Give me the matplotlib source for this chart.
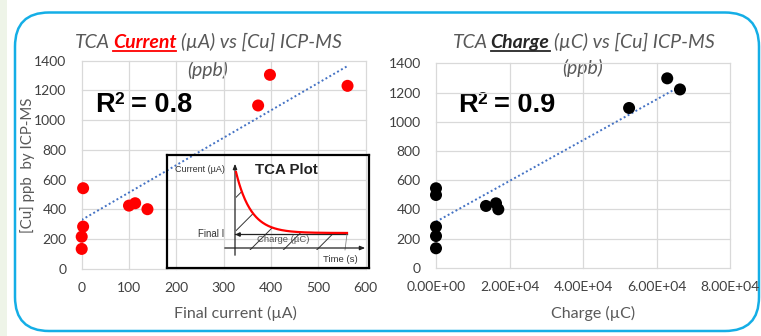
import matplotlib
matplotlib.use('Agg')
import matplotlib.pyplot as plt
import numpy as np
from matplotlib.patches import FancyBboxPatch, Rectangle
from matplotlib.ticker import FixedLocator, FixedFormatter

W, H = 761, 336

# ---------------- data ----------------
cur_x = [0, 0, 3, 3, 100, 113, 139, 373, 398, 562]
cur_y = [135, 217, 285, 543, 426, 442, 402, 1099, 1305, 1231]
cur_trend_x = [0, 564]
cur_trend_y = [330, 1368]

chg_x = [0, 0, 0, 0, 0, 13600, 16330, 16960, 52540, 62920, 66390]
chg_y = [133, 217, 281, 498, 544, 423, 441, 400, 1094, 1297, 1221]
chg_trend_x = [0, 66860]
chg_trend_y = [315, 1248]

cur_xticks = [0, 100, 200, 300, 400, 500, 600]
chg_xticks = [0, 20000, 40000, 60000, 80000]
chg_xticklabels = ['0.00E+00', '2.00E+04', '4.00E+04', '6.00E+04', '8.00E+04']
yticks = [0, 200, 400, 600, 800, 1000, 1200, 1400]

r2_cur = '0.8'
r2_chg = '0.9'

FONT = 'Lato'
GRAY = '#595959'
TICK = '#404040'
GRID = '#d9d9d9'
TREND = '#4472c4'

plt.rcParams['hatch.linewidth'] = 0.7

fig = plt.figure(figsize=(W / 100, H / 100), dpi=100)

# background / frame layer in pixel coordinates
bg = fig.add_axes([0, 0, 1, 1], zorder=0)
bg.set_xlim(0, W)
bg.set_ylim(H, 0)
bg.axis('off')
bg.add_patch(Rectangle((0, 0), 7, H, facecolor='#eef4e8', edgecolor='none'))
bg.add_patch(FancyBboxPatch((15, 12.5), 744, 318.5,
                            boxstyle='round,pad=0,rounding_size=34',
                            facecolor='none', edgecolor='#14aee6', lw=1.8))


def style_axes(ax):
    for s in ax.spines.values():
        s.set_visible(False)
    ax.grid(True, color=GRID, lw=0.9)
    ax.set_axisbelow(True)
    ax.tick_params(length=0, colors=TICK, labelsize=10)
    ax.tick_params(axis='x', pad=9.5)
    ax.tick_params(axis='y', pad=11)
    for lab in ax.get_xticklabels() + ax.get_yticklabels():
        lab.set_fontfamily(FONT)
    for gl in ax.get_xgridlines() + ax.get_ygridlines():
        gl.set_clip_on(False)


# ---------------- left chart ----------------
axL = fig.add_axes([81.7 / W, 1 - 269 / H, (365.5 - 81.7) / W, (269 - 60.7) / H], zorder=2)
axL.patch.set_alpha(0)
axL.set_xlim(0, 600)
axL.set_ylim(0, 1400)
axL.set_xticks(cur_xticks)
axL.set_yticks(yticks)
style_axes(axL)
axL.plot(cur_trend_x, cur_trend_y, color=TREND, lw=1.4, ls=(0, (1, 1.3)), zorder=3)
axL.scatter(cur_x, cur_y, s=75, color='#ff0000', edgecolor='none', zorder=4, clip_on=False)

# ---------------- right chart ----------------
axR = fig.add_axes([436 / W, 1 - 267.7 / H, (730 - 436) / W, (267.7 - 63.3) / H], zorder=2)
axR.patch.set_alpha(0)
axR.set_xlim(0, 80000)
axR.set_ylim(0, 1400)
axR.xaxis.set_major_locator(FixedLocator(chg_xticks))
axR.xaxis.set_major_formatter(FixedFormatter(chg_xticklabels))
axR.set_yticks(yticks)
style_axes(axR)
axR.plot(chg_trend_x, chg_trend_y, color=TREND, lw=1.4, ls=(0, (1, 1.3)), zorder=3)
axR.scatter(chg_x, chg_y, s=75, color='#000000', edgecolor='none', zorder=4, clip_on=False)

# ---------------- texts ----------------
fig.canvas.draw()
renderer = fig.canvas.get_renderer()


def text_width(s, **kw):
    t = bg.text(0, 0, s, **kw)
    w = t.get_window_extent(renderer).width
    t.remove()
    return w


def space_width(kw, factor):
    return factor * (text_width('x x', **kw) - text_width('xx', **kw))


def rich_line(xc, yc, parts, size, base=None, align='center', sfactor=1.0):
    if base is None:
        base = dict(fontfamily=FONT, fontstyle='italic')
    items = []
    total = 0
    for s, props in parts:
        kw = dict(base)
        kw['fontsize'] = size
        kw.update({k: v for k, v in props.items() if k not in ('underline', 'rise', 'sf')})
        sf = props.get('sf', sfactor)
        off = 0
        if s.strip() == '':
            w = space_width(kw, sf)
        else:
            w = text_width(s.strip(), **kw)
            if s.startswith(' '):
                off = space_width(kw, sf)
                w += off
        items.append((s, kw, w, off, props.get('underline', False), props.get('rise', 0)))
        total += w
    x = xc - total / 2 if align == 'center' else xc
    for s, kw, w, off, ul, rise in items:
        if s.strip() != '':
            bg.text(x + off, yc - rise, s.strip(), ha='left', va='baseline', zorder=5, **kw)
        if ul:
            bg.plot([x + off, x + w], [yc + 2.5, yc + 2.5], color=kw['color'], lw=1.3)
        x += w


TSIZE = 14
rich_line(208.5, 48, [('TCA', dict(color=GRAY)), (' ', dict(color=GRAY, sf=0.55)),
                      ('Current', dict(color='#ff0000', fontweight='bold', underline=True)),
                      (' ', dict(color=GRAY, sf=1.0)), ('(\u00b5A) vs [Cu] ICP-MS', dict(color=GRAY))],
          TSIZE)
rich_line(208, 76, [('(ppb)', dict(color=GRAY))], TSIZE)
rich_line(584, 48, [('TCA', dict(color=GRAY)), (' ', dict(color=GRAY, sf=0.55)),
                    ('Charge', dict(color='#262626', fontweight='bold', underline=True)),
                    (' ', dict(color=GRAY, sf=1.0)), ('(\u00b5C) vs [Cu] ICP-MS', dict(color=GRAY))],
          TSIZE)
rich_line(583, 74, [('(ppb)', dict(color=GRAY))], TSIZE)

r2base = dict(fontfamily='Liberation Sans', fontweight='bold', color='black')
for x0, val in [(95, r2_cur), (458, r2_chg)]:
    rich_line(x0, 111.5, [('R', {}), ('2', dict(fontsize=12.5, rise=8)),
                          (' = ' + val, {})], 19.5, base=r2base, align='left', sfactor=0.9)

bg.text(28, 165, '[Cu] ppb  by ICP-MS', rotation=90, ha='center', va='center',
        fontfamily=FONT, fontsize=10.8, color=GRAY)
bg.text(235, 313, 'Final current (\u00b5A)', ha='center', va='center',
        fontfamily=FONT, fontsize=11.5, color=GRAY)
bg.text(593, 313, 'Charge (\u00b5C)', ha='center', va='center',
        fontfamily=FONT, fontsize=11.5, color=GRAY)

# ---------------- inset schematic (TCA plot) ----------------
ins = fig.add_axes([167 / W, 1 - 268 / H, 202 / W, 113 / H], zorder=3)
ins.set_xlim(167, 369)
ins.set_ylim(268, 155)
ins.patch.set_alpha(0)
ins.set_xticks([])
ins.set_yticks([])
for s in ins.spines.values():
    s.set_linewidth(1.6)
    s.set_color('black')

axis_x0, axis_y0 = 235, 248
final_y = 234
t_end = 347
peak_y = 172
tau = 15
tt = np.linspace(axis_x0 + 1, t_end, 200)
curve = final_y - 1 - (final_y - 1 - peak_y) * np.exp(-(tt - (axis_x0 + 1)) / tau)

ins.fill_between(tt, curve, axis_y0 + 2, facecolor='none', edgecolor='#333333',
                 hatch='/', lw=0)
ins.plot(tt, curve, color='#ff0000', lw=1.6, zorder=4)
ins.plot([axis_x0, t_end], [final_y, final_y], color='#222222', lw=0.9)
ins.plot([t_end, t_end - 2], [final_y, axis_y0 + 2], color='#888888', lw=0.6)
ins.annotate('', xy=(axis_x0, 161), xytext=(axis_x0, 258),
             arrowprops=dict(arrowstyle='-|>,head_length=0.3,head_width=0.12', color='#222222', lw=0.9))
ins.annotate('', xy=(368, axis_y0), xytext=(222, axis_y0),
             arrowprops=dict(arrowstyle='-|>,head_length=0.3,head_width=0.12', color='#222222', lw=0.9))
ins.plot([axis_x0 + 2.5], [final_y], marker='<', ms=2.5, color='#222222')

ins.text(200, 170, 'Current (\u00b5A)', fontsize=6.5, fontfamily='Liberation Sans',
         ha='center', va='center', color='#333333')
ins.text(286, 170, 'TCA Plot', fontsize=10.8, fontfamily='Liberation Sans', fontweight='bold',
         ha='center', va='center', color='#222222')
ins.text(211, 234, 'Final I', fontsize=7, fontfamily='Liberation Sans',
         ha='center', va='center', color='#333333')
ins.text(283, 240, 'Charge (\u00b5C)', fontsize=6.8, fontfamily='Liberation Sans',
         ha='center', va='center', color='#555555')
ins.text(340, 259, 'Time (s)', fontsize=6.8, fontfamily='Liberation Sans',
         ha='center', va='center', color='#333333')

fig.savefig('out.png', dpi=100)
